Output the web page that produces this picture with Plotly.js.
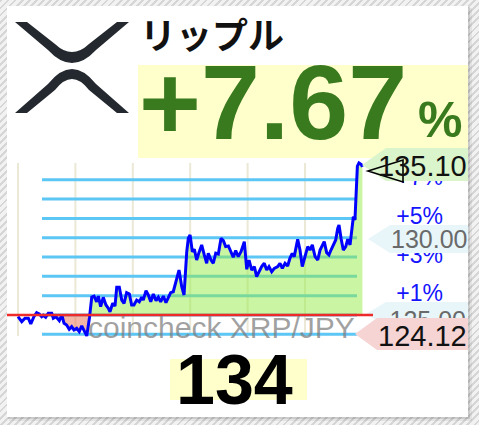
<!DOCTYPE html>
<html><head><meta charset="utf-8">
<script src="https://cdn.plot.ly/plotly-3.0.1.min.js"></script>
<style>
html,body{margin:0;padding:0;}
body{width:479px;height:425px;overflow:hidden;background:repeating-linear-gradient(135deg,#d6d6d6 0px,#d6d6d6 2px,#f2f2f2 2px,#f2f2f2 5px);}
#chart{width:479px;height:425px;}
</style></head><body><div id="chart"></div>
<script>
// ---- data ----
const coinName = "リップル";
const pairName = "coincheck XRP/JPY";
const changePct = 7.67;
const basePrice = 125.48;     // price 24h ago (0% line)
const lastPrice = 135.10;
const lowPrice = 124.12;
const priceTicks = [125, 130];
const pctLevels = [-1, 0, 1, 2, 3, 4, 5, 6, 7];
const pctLabelLevels = [1, 3, 5, 7];
const gridHours = [0, 4, 8, 12, 16, 20];
const footerValue = 134;
const fillFromHour = 3.0;
const hours = [
 0.00,0.26,0.49,0.72,0.89,1.11,1.30,1.48,1.65,1.76,
 1.93,2.11,2.35,2.46,2.65,2.88,3.05,3.21,3.39,3.57,
 3.74,3.90,4.09,4.27,4.44,4.60,4.79,4.98,5.14,5.30,
 5.48,5.60,5.76,5.94,6.13,6.29,6.41,6.60,6.76,6.88,
 7.06,7.23,7.39,7.57,7.76,7.92,8.08,8.27,8.45,8.62,
 8.73,8.92,9.08,9.25,9.43,9.62,9.78,9.94,10.13,10.31,
 10.47,10.64,10.82,11.06,11.22,11.41,11.57,11.76,11.87,11.99,
 12.15,12.29,12.45,12.61,12.80,12.98,13.15,13.26,13.45,13.61,
 13.78,13.96,14.15,14.31,14.47,14.66,14.84,15.00,15.17,15.35,
 15.54,15.77,15.94,16.10,16.29,16.47,16.63,16.79,16.98,17.16,
 17.33,17.49,17.68,17.86,18.10,18.26,18.42,18.61,18.79,18.95,
 19.11,19.25,19.49,19.65,19.81,20.00,20.19,20.35,20.51,20.70,
 20.89,21.05,21.21,21.34,21.51,21.67,21.81,21.97,22.14,22.28,
 22.37,22.51,22.67,22.84,22.98,23.14,23.25,23.37,23.48,23.55,
 23.65,23.76,23.92,24.00];
const prices = [
 125.37,125.05,125.27,125.27,124.90,125.37,125.63,125.55,125.37,125.46,
 125.33,125.59,125.59,125.27,125.37,125.11,125.48,124.94,124.83,124.55,
 124.72,124.51,124.62,124.40,124.77,124.51,124.12,125.29,126.65,126.71,
 126.34,126.71,126.02,126.63,126.13,125.92,125.69,126.24,126.06,127.28,
 127.28,126.45,126.24,126.93,126.84,126.13,126.13,126.45,126.34,126.63,
 126.45,127.06,126.78,126.34,126.84,126.41,126.63,126.34,126.71,126.28,
 126.63,126.93,126.99,127.75,128.40,127.32,126.78,129.59,130.46,130.68,
 129.59,129.75,129.05,129.53,130.03,129.38,128.84,129.49,129.05,128.84,
 129.49,129.44,130.46,130.31,129.92,129.96,129.59,129.23,129.66,129.27,
 129.59,130.24,128.45,129.05,128.40,128.62,127.97,128.29,128.62,128.84,
 128.40,128.62,128.29,128.51,128.62,128.84,128.51,128.84,128.66,129.16,
 129.49,129.27,130.40,129.70,128.62,129.27,129.92,129.70,130.03,129.27,
 129.05,129.70,130.03,130.24,129.53,129.38,129.70,130.03,130.35,131.11,
 131.32,130.46,129.70,129.92,130.40,130.03,131.11,131.86,131.65,133.38,
 135.15,135.35,135.25,135.10];

// ---- layout geometry ----
const W = 479, H = 425;
const X0 = 18, PXH = 14.35;       // pixel of hour 0, pixels per hour
const BASEPY = 315, PXY = 15.4;   // pixel of base price, pixels per yen
const fx = x => x / W, fy = y => 1 - y / H;
const hx = px => (px - X0) / PXH;
const xRange = [hx(0), hx(W)];
const yRange = [basePrice - (H - BASEPY) / PXY, basePrice + BASEPY / PXY];

function pathPx(cmds) {
  return cmds.map(c => {
    const op = c[0], nums = c.slice(1);
    const pts = [];
    for (let i = 0; i < nums.length; i += 2) pts.push(fx(nums[i]).toFixed(5) + ',' + fy(nums[i+1]).toFixed(5));
    return op + pts.join(' ');
  }).join(' ') + ' Z';
}
function rectPx(x0, y0, x1, y1, color, layer) {
  return {type:'rect', xref:'paper', yref:'paper', x0:fx(x0), x1:fx(x1), y0:fy(y1), y1:fy(y0),
    fillcolor:color, line:{width:0}, layer:layer||'below'};
}

const sans = 'Liberation Sans, Arial, sans-serif';
const minP = Math.min(...prices), maxP = Math.max(...prices);

// ---- traces ----
const fi = hours.map((h,i)=>i).filter(i => hours[i] >= fillFromHour);
const fh = fi.map(i => hours[i]);
const baseArr = fh.map(() => basePrice);
const traces = [
  {x:fh, y:baseArr, mode:'lines', line:{width:0}, hoverinfo:'skip', showlegend:false},
  {x:fh, y:fi.map(i => Math.max(prices[i], basePrice)), mode:'lines', line:{width:0},
   fill:'tonexty', fillcolor:'rgba(150,235,70,0.5)', hoverinfo:'skip', showlegend:false},
  {x:fh, y:baseArr, mode:'lines', line:{width:0}, hoverinfo:'skip', showlegend:false},
  {x:fh, y:fi.map(i => Math.min(prices[i], basePrice)), mode:'lines', line:{width:0},
   fill:'tonexty', fillcolor:'rgba(232,110,80,0.5)', hoverinfo:'skip', showlegend:false},
  {x:hours, y:prices, mode:'lines', line:{color:'#0000ff', width:3}, hoverinfo:'skip', showlegend:false},
  {x:pctLabelLevels.map(() => hx(443)), y:pctLabelLevels.map(p => basePrice * (1 + p/100)),
   text:pctLabelLevels.map(p => '+' + p + '%'), mode:'text', textposition:'middle left',
   textfont:{family:sans, size:23, color:'#1414ff'}, hoverinfo:'skip', showlegend:false},
  {x:[hx(466)], y:[priceTicks[0]], text:[priceTicks[0].toFixed(2)], mode:'text', textposition:'middle left',
   textfont:{family:sans, size:25, color:'#6a6a6a'}, hoverinfo:'skip', showlegend:false}
];

// ---- shapes ----
const shapes = [];
// card shadow + card
shapes.push(rectPx(9, 8, 472, 421, 'rgba(0,0,0,0.06)'));
shapes.push(rectPx(8, 7, 470, 419, 'rgba(0,0,0,0.10)'));
shapes.push(rectPx(7, 6, 468, 417, '#ffffff'));
// yellow boxes
shapes.push(rectPx(138, 65, 468, 158, '#ffffcc'));
shapes.push(rectPx(170, 359, 307, 400, '#ffffcc'));
// XRP logo
shapes.push({type:'path', xref:'paper', yref:'paper', fillcolor:'#23292f', line:{width:0}, layer:'below',
  path:pathPx([['M',15,22],['L',27,22],['L',55,44],['Q',72,60,89,44],['L',117,22],['L',129,22],['L',96,50],['Q',72,76,48,50]])});
shapes.push({type:'path', xref:'paper', yref:'paper', fillcolor:'#23292f', line:{width:0}, layer:'below',
  path:pathPx([['M',15,113],['L',27,113],['L',55,90],['Q',72,68,89,90],['L',117,113],['L',129,113],['L',96,84],['Q',72,54,48,84]])});
// vertical grid
gridHours.forEach(h => shapes.push({type:'line', xref:'x', yref:'y', x0:h, x1:h, y0:minP, y1:maxP,
  line:{color:'#ebe8d6', width:2}, layer:'below'}));
// percent levels
pctLevels.forEach(p => shapes.push({type:'line', xref:'x', yref:'y', x0:hx(42), x1:hx(357),
  y0:basePrice*(1+p/100), y1:basePrice*(1+p/100), line:{color:'#5cc6f4', width:3}, layer:'below'}));
// 125.00 label box (under its text)
shapes.push({type:'path', xref:'paper', yref:'paper', fillcolor:'#e8f6fa', line:{width:0}, layer:'below',
  path:pathPx([['M',366,314],['L',386,302],['L',468,302],['L',468,326],['L',386,326]])});
// red base line
shapes.push({type:'line', xref:'paper', yref:'y', x0:fx(7), x1:fx(373), y0:basePrice, y1:basePrice,
  line:{color:'#ee2b2b', width:2.5}, layer:'above'});
// 124.12 box
shapes.push({type:'path', xref:'paper', yref:'paper', fillcolor:'#f6d4d4', line:{width:0}, layer:'above',
  path:pathPx([['M',355,334],['L',377,318],['L',468,318],['L',468,350],['L',377,350]])});
// 130.00 box
shapes.push({type:'path', xref:'paper', yref:'paper', fillcolor:'#e8f6fa', line:{width:0}, layer:'above',
  path:pathPx([['M',368,239],['L',390,225],['L',468,225],['L',468,253],['L',390,253]])});
// 135.10 box
shapes.push({type:'path', xref:'paper', yref:'paper', fillcolor:'#daf4cb', line:{width:0}, layer:'above',
  path:pathPx([['M',362,165],['L',386,148],['L',468,148],['L',468,181],['L',386,181]])});
// last price marker triangle
shapes.push({type:'path', xref:'paper', yref:'paper', fillcolor:'rgba(0,0,0,0)', line:{color:'#000', width:1.6}, layer:'above',
  path:pathPx([['M',368,171],['L',403,160],['L',403,182]])});

// ---- annotations ----
const ann = (o) => Object.assign({xref:'paper', yref:'paper', showarrow:false, borderpad:0, borderwidth:0}, o);
const annotations = [
  ann({text:'<b>'+coinName+'</b>', x:fx(140), y:fy(33), xanchor:'left', yanchor:'middle',
       font:{family:'Noto Sans CJK JP, sans-serif', size:36, color:'#111'}}),
  ann({text:'<b>+'+changePct.toFixed(2)+'</b>', x:fx(139), y:fy(102), xanchor:'left', yanchor:'middle',
       font:{family:sans, size:106, color:'#3a7a1e'}}),
  ann({text:'<b>%</b>', x:fx(418), y:fy(120), xanchor:'left', yanchor:'middle',
       font:{family:sans, size:50, color:'#3a7a1e'}}),
  ann({text:pairName, x:fx(88), y:fy(327), xanchor:'left', yanchor:'middle',
       font:{family:sans, size:30, color:'rgba(125,125,125,0.72)'}}),
  ann({text:lastPrice.toFixed(2), x:fx(467), y:fy(165.5), xanchor:'right', yanchor:'middle',
       font:{family:sans, size:29, color:'#111'}}),
  ann({text:priceTicks[1].toFixed(2), x:fx(467), y:fy(239), xanchor:'right', yanchor:'middle',
       font:{family:sans, size:25, color:'#6a6a6a'}}),
  ann({text:lowPrice.toFixed(2), x:fx(467), y:fy(336), xanchor:'right', yanchor:'middle',
       font:{family:sans, size:29, color:'#111'}}),
  ann({text:'<b>'+footerValue+'</b>', x:fx(234), y:fy(380), xanchor:'center', yanchor:'middle',
       font:{family:sans, size:70, color:'#000'}})
];

const layout = {
  width:W, height:H, margin:{l:0,r:0,t:0,b:0,pad:0},
  paper_bgcolor:'rgba(0,0,0,0)', plot_bgcolor:'rgba(0,0,0,0)',
  xaxis:{range:xRange, visible:false, fixedrange:true},
  yaxis:{range:yRange, visible:false, fixedrange:true},
  showlegend:false, shapes:shapes, annotations:annotations
};
Plotly.newPlot('chart', traces, layout, {staticPlot:true, displayModeBar:false});
</script></body></html>
